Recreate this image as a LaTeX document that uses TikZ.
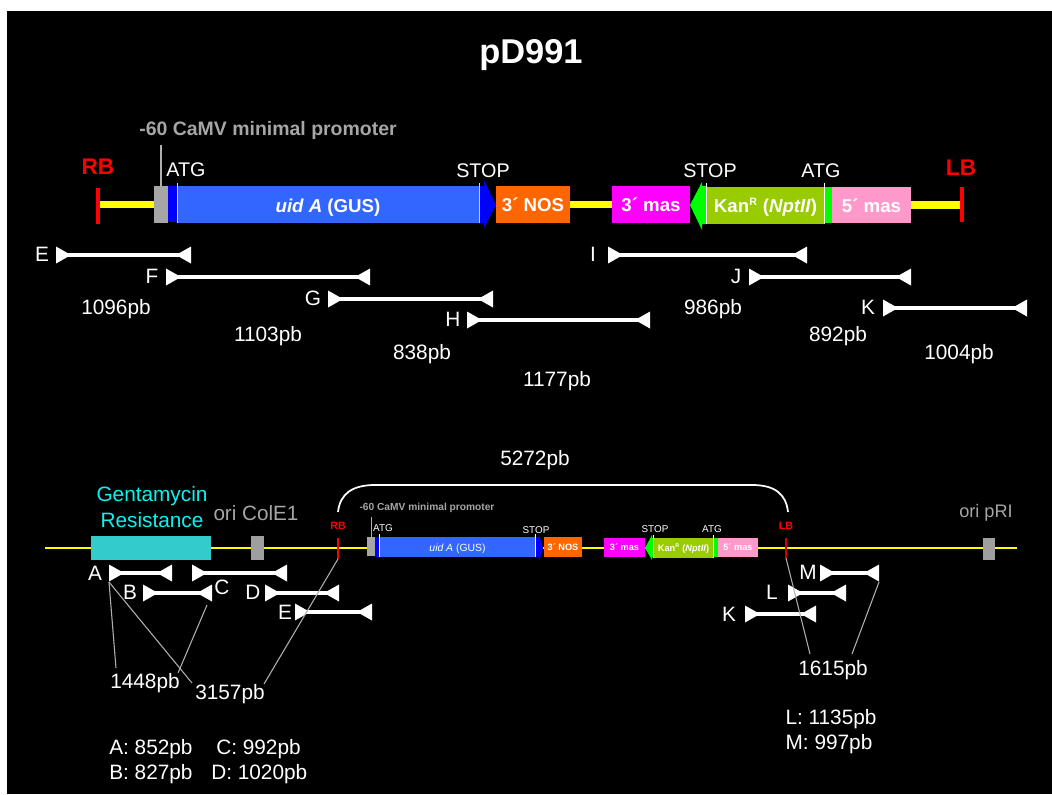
\documentclass[tikz,border=0pt]{standalone}
\usepackage{fontspec}
\setmainfont{Liberation Sans}
\definecolor{gusblue}{HTML}{3366FF}
\definecolor{darkblue}{HTML}{0000FF}
\definecolor{nosorange}{HTML}{FF6600}
\definecolor{masmag}{HTML}{FF00FF}
\definecolor{kanolive}{HTML}{99CC00}
\definecolor{kangreen}{HTML}{00FF00}
\definecolor{maspink}{HTML}{FF99CC}
\definecolor{promgray}{HTML}{A6A6A6}
\definecolor{gentcyan}{HTML}{33CCCC}
\definecolor{genttext}{HTML}{10F0F0}
\definecolor{linkyellow}{HTML}{FFFF00}
\definecolor{leader}{HTML}{B0B0B0}
\tikzset{
  x=0.75pt,y=-0.75pt,
  txt/.style={text=white,inner sep=0pt,yshift=-3pt,font=\fontsize{15.6}{18}\selectfont,align=center},
  big/.style={text=white,inner sep=0pt,yshift=-0.7pt,font=\fontsize{14.8}{16}\selectfont},
  smallbold/.style={text=white,inner sep=0pt,font=\fontsize{6.9}{8}\selectfont\bfseries},
  smallgus/.style={text=white,inner sep=0pt,font=\fontsize{7.8}{8}\selectfont},
  smalltag/.style={text=white,inner sep=0pt,font=\fontsize{7.4}{8}\selectfont},
  bigbold/.style={text=white,inner sep=0pt,font=\fontsize{14}{16}\selectfont\bfseries},
  leaderline/.style={draw=leader,line width=0.8pt},
  bar/.style={draw=white,line width=2.4pt},
  thickbar/.style={draw=white,line width=2.8pt},
}
% text lowered inside a box of fixed height, so that it really moves
\newcommand{\boxtxt}[2]{\raisebox{-#1}[0.8em][0.2em]{#2}}
% box: name, x1, y1, x2, y2, colour, text style, text
\newcommand{\gbox}[8]{%
  \pgfmathsetmacro{\bw}{(#4-#2)*0.75}\pgfmathsetmacro{\bh}{(#5-#3)*0.75}%
  \node[rectangle,fill=#6,inner sep=0pt,outer sep=0pt,minimum width=\bw pt,minimum height=\bh pt,#7] (#1) at ({(#2+#4)/2},{(#3+#5)/2}) {#8};}
% primer: id, x1, x2, y, bar style
\newcommand{\primer}[5]{%
  \coordinate (#1-l) at (#2,#4);\coordinate (#1-r) at (#3,#4);
  \coordinate (#1-lb) at (#2,#4+9);\coordinate (#1-rb) at (#3,#4+9);
  \draw[#5] (#1-l) -- (#1-r);
  \fill[white] (#2,#4-8.5) -- (#2,#4+8.5) -- (#2+15,#4) -- cycle;
  \fill[white] (#3,#4-8.5) -- (#3,#4+8.5) -- (#3-15,#4) -- cycle;}
\begin{document}
\begin{tikzpicture}
\useasboundingbox (0,0) rectangle (1052,794);
\fill[white] (0,0) rectangle (1052,794);
\fill[black] (7,11) rectangle (1052,794);

\node[text=white,inner sep=0pt,font=\fontsize{25.8}{28}\selectfont\bfseries] (title) at (531,55) {pD991};

% ---------- top construct ----------
\coordinate (rbtop) at (98,204.5);
\coordinate (lbtop) at (962,205);
\gbox{tprom}{154}{186}{168}{223}{promgray}{}{}
\gbox{tnos}{496}{186}{570}{223}{nosorange}{bigbold}{\boxtxt{1.4pt}{3´ NOS}}
\gbox{tm3}{612}{186}{690}{223}{masmag}{bigbold}{\boxtxt{1.4pt}{3´ mas}}
\gbox{tm5}{832}{187}{911}{223}{maspink}{bigbold}{\boxtxt{1.2pt}{5´ mas}}
\draw[linkyellow,line width=5.5pt] (rbtop) -- (tprom.west);
\draw[linkyellow,line width=5.5pt] (tnos.east) -- (tm3.west);
\draw[linkyellow,line width=5.5pt] (tm5.east) -- (lbtop);
\draw[red,line width=3pt] (98,188) -- (98,224);
\draw[red,line width=3pt] (962,187) -- (962,222);
\node[text=red,inner sep=0pt,font=\fontsize{17}{18}\selectfont\bfseries] (rbT) at (98,167) {RB};
\node[text=red,inner sep=0pt,font=\fontsize{17}{18}\selectfont\bfseries] (lbT) at (961,168) {LB};
% GUS
\fill[darkblue] (168,186) rectangle (177,222);
\fill[darkblue] (479,186) -- (484,186) -- (484,180) -- (496,205) -- (484,228) -- (484,223) -- (479,223) -- cycle;
\gbox{tgus}{177}{186}{479}{223}{gusblue}{bigbold}{\boxtxt{1.9pt}{\textit{uid A} (GUS)}}
\draw[white!80!blue,line width=0.7pt] (177,183) -- (177,223);
\draw[white!80!blue,line width=0.7pt] (479,183) -- (479,223);
% Kan
\fill[kangreen] (707,186) -- (702,186) -- (702,182) -- (690,205) -- (702,230) -- (702,224) -- (707,224) -- cycle;
\fill[kangreen] (824,187) rectangle (832,223);
\gbox{tkan}{707}{187}{824}{224}{kanolive}{bigbold}{\boxtxt{1.2pt}{Kan\textsuperscript{\fontsize{8}{8}\selectfont R} (\textit{NptII})}}
\draw[white,line width=0.7pt] (706,183) -- (706,224);
\draw[white,line width=0.7pt] (824,183) -- (824,224);
% promoter label
\node[text=promgray,inner sep=0pt,font=\fontsize{14.6}{16}\selectfont\bfseries] (tpl) at (268,130) {-60 CaMV minimal promoter};
\coordinate (tplfoot) at (161,145);
\draw[leaderline] (tplfoot) -- (tprom.north);
\node[big] (tatg) at (186,169) {ATG};
\node[big] (tstop) at (483,170) {STOP};
\node[big] (tstop2) at (710,170) {STOP};
\node[big] (tatg2) at (821,170) {ATG};

% top primers
\primer{pE}{56}{191}{255}{bar}
\primer{pF}{166}{370}{277}{bar}
\primer{pG}{328}{493}{299}{bar}
\primer{pH}{467}{650}{320}{bar}
\primer{pI}{608}{807}{255}{bar}
\primer{pJ}{749}{911}{277}{bar}
\primer{pK}{883}{1027}{308}{bar}
\node[txt] (lE) at (42,250) {E};
\node[txt] (lF) at (152,272) {F};
\node[txt] (lG) at (313,294) {G};
\node[txt] (lH) at (453,315) {H};
\node[txt] (lI) at (593,250) {I};
\node[txt] (lJ) at (736,272) {J};
\node[txt] (lK) at (868,303) {K};
\node[txt] (s1) at (116,305) {1096pb};
\node[txt] (s2) at (268,332) {1103pb};
\node[txt] (s3) at (422,350) {838pb};
\node[txt] (s4) at (557,377) {1177pb};
\node[txt] (s5) at (713,305) {986pb};
\node[txt] (s6) at (838,332) {892pb};
\node[txt] (s7) at (959,350) {1004pb};

% ---------- bottom map ----------
\node[txt] (total) at (535,456) {5272pb};
\coordinate (bstart) at (45,548);
\coordinate (bend) at (1017,548);
\draw[linkyellow,line width=1.6pt] (bstart) -- (bend);
\coordinate (brL) at (338,512);
\coordinate (brR) at (788,512);
\draw[white,line width=1.3pt] (brL) .. controls (340,494) and (352,485) .. (375,485) -- (752,485) .. controls (775,485) and (786,494) .. (brR);
\gbox{gent}{91}{536}{211}{560}{gentcyan}{}{}
\gbox{colE}{251}{536}{264}{560}{gray!75!white}{}{}
\gbox{pRI}{983}{538}{995}{560}{gray!75!white}{}{}
\node[text=genttext,inner sep=0pt,align=center,font=\fontsize{15.6}{19}\selectfont] (gentl) at (152,507) {Gentamycin\\Resistance};
\node[text=gray!70!white,inner sep=0pt,font=\fontsize{15.5}{18}\selectfont] (colEl) at (256,513) {ori ColE1};
\node[text=gray!70!white,inner sep=0pt,font=\fontsize{13.6}{18}\selectfont] (pRIl) at (986,513) {ori pRI};
\draw[red,line width=0.9pt] (338,538) -- (338,559);
\draw[red!80!black,line width=0.9pt] (786,538) -- (786,558);
\coordinate (rbfoot) at (338,559);
\coordinate (lbfoot) at (786,558);
\node[text=red,inner sep=0pt,font=\fontsize{8}{9}\selectfont\bfseries] (rbB) at (338,526) {RB};
\node[text=red,inner sep=0pt,font=\fontsize{8}{9}\selectfont\bfseries] (lbB) at (786,526) {LB};
% mini cassette
\gbox{mprom}{367}{537}{375}{556}{promgray}{}{}
\fill[darkblue] (375,537) rectangle (380,557);
\fill[darkblue] (535,537) -- (539,537) -- (539,534) -- (543,548) -- (539,561) -- (539,557) -- (535,557) -- cycle;
\gbox{mgus}{380}{537}{535}{557}{gusblue}{smallgus}{\boxtxt{0.7pt}{\textit{uid A} (GUS)}}
\draw[white,line width=0.5pt] (379,534) -- (379,557);
\draw[white,line width=0.5pt] (535,534) -- (535,557);
\gbox{mnos}{544}{537}{582}{557}{nosorange}{smallbold}{\boxtxt{0.7pt}{3´ NOS}}
\gbox{mm3}{604}{538}{645}{557}{masmag}{smallbold}{\boxtxt{0.5pt}{3´ mas}}
\fill[kangreen] (653,538) -- (652,538) -- (652,535) -- (645,548) -- (652,560) -- (652,557) -- (653,557) -- cycle;
\fill[kangreen] (714,538) rectangle (718,557);
\gbox{mkan}{653}{538}{714}{558}{kanolive}{smallbold}{\boxtxt{0.5pt}{Kan\textsuperscript{\fontsize{4}{4}\selectfont R} (\textit{NptII})}}
\draw[white,line width=0.5pt] (653,535) -- (653,558);
\draw[white,line width=0.5pt] (713,535) -- (713,558);
\gbox{mm5}{718}{538}{758}{557}{maspink}{smallbold}{\boxtxt{0.5pt}{5´ mas}}
\node[text=promgray,inner sep=0pt,font=\fontsize{7.65}{9}\selectfont\bfseries] (mpl) at (427,508) {-60 CaMV minimal promoter};
\coordinate (mplfoot) at (371,517);
\draw[leaderline,line width=0.6pt] (mplfoot) -- (mprom.north);
\node[smalltag] (matg) at (383,528) {ATG};
\node[smalltag] (mstop) at (536,530) {STOP};
\node[smalltag] (mstop2) at (655,529) {STOP};
\node[smalltag] (matg2) at (712,529) {ATG};

% bottom primers
\primer{qA}{109}{172}{573}{thickbar}
\primer{qC}{192}{287}{573}{thickbar}
\primer{qB}{143}{212}{593}{thickbar}
\primer{qD}{265}{339}{593}{thickbar}
\primer{qE}{295}{372}{612}{thickbar}
\primer{qK}{745}{816}{614}{thickbar}
\primer{qL}{788}{846}{593}{thickbar}
\primer{qM}{820}{879}{573}{thickbar}
\node[txt] (bA) at (95,569) {A};
\node[txt] (bB) at (130,588) {B};
\node[txt] (bC) at (222,583) {C};
\node[txt] (bD) at (253,588) {D};
\node[txt] (bE) at (285,608) {E};
\node[txt] (bK) at (729,610) {K};
\node[txt] (bL) at (772,588) {L};
\node[txt] (bM) at (808,568) {M};
\node[txt] (t1448) at (145,679) {1448pb};
\node[txt] (t3157) at (230,690) {3157pb};
\node[txt] (t1615) at (833,666) {1615pb};
\coordinate (f1) at (116,668);
\coordinate (f2) at (192,683);
\coordinate (f3) at (178,673);
\coordinate (f4) at (264,684);
\coordinate (f5) at (810,654);
\coordinate (f6) at (852,654);
\coordinate (qBtail) at (207,605);
\draw[leaderline] (qA-lb) -- (f1);
\draw[leaderline] (qA-lb) -- (f2);
\draw[leaderline] (qBtail) -- (f3);
\draw[leaderline] (rbfoot) -- (f4);
\draw[leaderline] (lbfoot) -- (f5);
\draw[leaderline] (qM-rb) -- (f6);
\node[txt,anchor=west] (la) at (109,745) {A: 852pb};
\node[txt,anchor=west] (lb) at (109,770) {B: 827pb};
\node[txt,anchor=west] (lc) at (216,745) {C: 992pb};
\node[txt,anchor=west] (ld) at (211,770) {D: 1020pb};
\node[txt] (lL) at (831,715) {L: 1135pb};
\node[txt] (lM) at (829,740) {M: 997pb};
\end{tikzpicture}
\end{document}
